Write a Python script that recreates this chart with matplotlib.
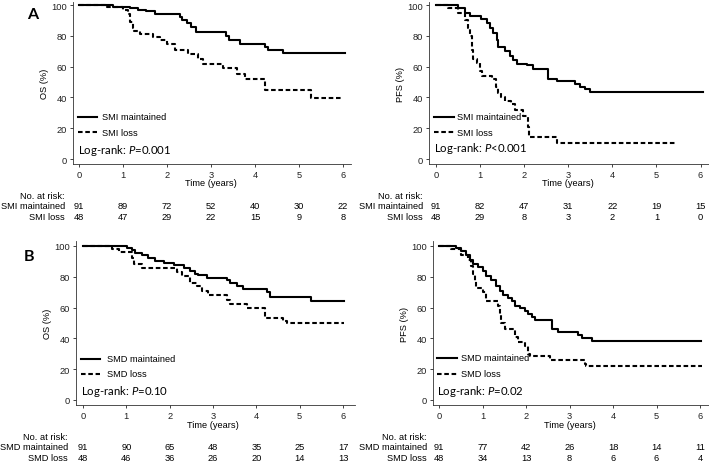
import matplotlib
matplotlib.use("Agg")
import matplotlib.pyplot as plt
import matplotlib.transforms as mtrans

plt.rcParams['font.family'] = ['Liberation Sans', 'DejaVu Sans']
plt.rcParams['mathtext.fontset'] = 'custom'
plt.rcParams['mathtext.rm'] = 'Lato'
plt.rcParams['mathtext.it'] = 'Lato:italic'

# ---------------- data ----------------
# Panel A, OS
a_os_maint_t = [0, 0.78, 1.16, 1.35, 1.53, 1.72, 2.29, 2.35, 2.45, 2.55, 2.65, 2.82, 3.35, 3.41, 3.65, 4.22, 4.30, 4.64, 6.05]
a_os_maint_s = [100, 99, 98, 97, 96, 94, 92, 90, 88, 86, 82.5, 82.5, 80, 77, 75, 73, 71, 69, 69]
a_os_loss_t = [0, 0.63, 1.0, 1.12, 1.17, 1.22, 1.25, 1.38, 1.69, 1.84, 1.99, 2.18, 2.48, 2.70, 2.82, 3.28, 3.58, 3.77, 4.22, 5.28, 6.0]
a_os_loss_s = [100, 98.5, 97, 94, 89, 85, 83, 81, 79, 77, 75, 70.5, 68, 65, 62, 59, 55.5, 52, 44.5, 39.5, 39.5]

# Panel A, PFS
a_pfs_maint_t = [0, 0.51, 0.66, 0.77, 1.03, 1.15, 1.22, 1.30, 1.38, 1.41, 1.56, 1.68, 1.75, 1.83, 2.06, 2.21, 2.55, 2.74, 3.15, 3.27, 3.38, 3.49, 6.06]
a_pfs_maint_s = [100, 98, 95, 93, 91, 88, 85, 82, 77, 73, 70, 67, 64, 62, 61, 58.5, 52, 50.5, 48.5, 47, 45.5, 43.5, 43.5]
a_pfs_loss_t = [0, 0.28, 0.51, 0.66, 0.73, 0.77, 0.81, 0.85, 0.93, 1.0, 1.04, 1.26, 1.37, 1.41, 1.48, 1.56, 1.71, 1.79, 1.98, 2.09, 2.12, 2.74, 5.42]
a_pfs_loss_s = [100, 98, 95, 90, 85, 80, 71, 65, 62.5, 57, 54, 52, 46.5, 43, 40, 37.5, 35.5, 31.5, 28, 20.5, 14, 10.5, 10.5]

# Panel B, OS
b_os_maint_t = [0, 1.01, 1.13, 1.20, 1.36, 1.51, 1.67, 1.86, 2.09, 2.32, 2.47, 2.59, 2.66, 2.85, 3.32, 3.40, 3.55, 3.70, 4.24, 4.31, 5.27, 6.02]
b_os_maint_s = [100, 99, 97.5, 95.5, 94, 92.5, 90, 89, 87.5, 86, 84, 82, 81, 79.5, 78, 76, 74, 72, 70, 67, 64.5, 64.5]
b_os_loss_t = [0, 0.67, 0.82, 1.13, 1.17, 1.36, 2.16, 2.28, 2.47, 2.62, 2.74, 2.89, 3.32, 3.40, 3.78, 4.20, 4.62, 4.70, 6.02]
b_os_loss_s = [100, 98, 96, 92, 88, 86, 83, 80.5, 76, 74, 71, 68, 65, 62.5, 60, 53.5, 51, 50, 50]

# Panel B, PFS
b_pfs_maint_t = [0, 0.40, 0.51, 0.63, 0.71, 0.78, 0.90, 1.01, 1.09, 1.20, 1.32, 1.40, 1.47, 1.59, 1.67, 1.74, 1.86, 1.97, 2.05, 2.13, 2.20, 2.59, 2.74, 3.20, 3.28, 3.51, 6.02]
b_pfs_maint_s = [100, 98.5, 97, 94, 91, 88, 86.5, 83.5, 80.5, 78, 74, 71, 68.5, 66.5, 64, 61, 59.5, 58, 56, 54, 52, 46, 44, 42, 40.5, 38.5, 38.5]
b_pfs_loss_t = [0, 0.28, 0.51, 0.67, 0.74, 0.78, 0.82, 0.86, 1.01, 1.09, 1.36, 1.40, 1.43, 1.51, 1.74, 1.82, 1.97, 2.05, 2.09, 2.55, 3.35, 3.39, 6.04]
b_pfs_loss_s = [100, 98, 94, 91, 87, 82, 77, 72.5, 70, 64.5, 61, 56, 50, 46, 41, 37.5, 35, 30, 28.5, 26, 23.5, 22, 22]

x_ticks = [0, 1, 2, 3, 4, 5, 6]
y_ticks = [0, 20, 40, 60, 80, 100]

a_os_risk_maint = [91, 89, 72, 52, 40, 30, 22]
a_os_risk_loss = [48, 47, 29, 22, 15, 9, 8]
a_pfs_risk_maint = [91, 82, 47, 31, 22, 19, 15]
a_pfs_risk_loss = [48, 29, 8, 3, 2, 1, 0]
b_os_risk_maint = [91, 90, 65, 48, 35, 25, 17]
b_os_risk_loss = [48, 46, 36, 26, 20, 14, 13]
b_pfs_risk_maint = [91, 77, 42, 26, 18, 14, 11]
b_pfs_risk_loss = [48, 34, 13, 8, 6, 6, 4]

# ---------------- layout ----------------
W, H = 709, 464
fig = plt.figure(figsize=(W / 100, H / 100), dpi=100)
FS = 6.7


def fy(py):
    return 1 - py / H


def fx(px):
    return px / W


def make_axes(left, right, top, bottom, x0, x6, y100, y0):
    ax = fig.add_axes([fx(left), fy(bottom), fx(right - left), (bottom - top) / H])
    ppx = (x6 - x0) / 6.0
    ppy = (y0 - y100) / 100.0
    ax.set_xlim(0 - (x0 - left) / ppx, 6 + (right - x6) / ppx)
    ax.set_ylim(0 - (bottom - y0) / ppy, 100 + (y100 - top) / ppy)
    for s in ['top', 'right']:
        ax.spines[s].set_visible(False)
    for s in ['left', 'bottom']:
        ax.spines[s].set_linewidth(0.6)
        ax.spines[s].set_color('#333333')
    ax.set_xticks(x_ticks)
    ax.set_yticks(y_ticks)
    ax.tick_params(direction='out', length=2.5, width=0.6, labelsize=FS, pad=2, colors='#222222')
    ax.patch.set_alpha(0)
    return ax


def draw_panel(ax, t1, s1, t2, s2, ylabel, names, pval, leg_px, leg_y1, leg_y2, logrank_y,
               risk1, risk2, rows_y, label_right, time_y):
    ax.step(t1, s1, where='post', color='black', lw=1.5)
    ax.step(t2, s2, where='post', color='black', lw=1.5, dashes=(2.2, 1.3))
    ax.set_ylabel(ylabel, fontsize=FS, labelpad=1.5)
    tr_x = mtrans.blended_transform_factory(ax.transData, fig.transFigure)
    # legend
    lx0, lx1, ltx = leg_px
    fig.add_artist(plt.Line2D([fx(lx0), fx(lx1)], [fy(leg_y1)] * 2, color='black', lw=1.5,
                              transform=fig.transFigure))
    fig.add_artist(plt.Line2D([fx(lx0), fx(lx1)], [fy(leg_y2)] * 2, color='black', lw=1.5,
                              dashes=(2.2, 1.3), transform=fig.transFigure))
    fig.text(fx(ltx), fy(leg_y1), names[0], fontsize=FS, va='center', ha='left')
    fig.text(fx(ltx), fy(leg_y2), names[1], fontsize=FS, va='center', ha='left')
    fig.text(fx(lx0), fy(logrank_y), 'Log-rank: $\\mathit{P}$' + pval, fontsize=8.2,
             family='Lato', va='center', ha='left')
    # time label
    ax.text(3, fy(time_y), 'Time (years)', transform=tr_x, fontsize=FS, ha='center', va='center')
    # risk table
    fig.text(fx(label_right), fy(rows_y[0]), 'No. at risk:', fontsize=FS, ha='right', va='center')
    fig.text(fx(label_right), fy(rows_y[1]), names[0], fontsize=FS, ha='right', va='center')
    fig.text(fx(label_right), fy(rows_y[2]), names[1], fontsize=FS, ha='right', va='center')
    for xv, r1, r2 in zip(x_ticks, risk1, risk2):
        ax.text(xv, fy(rows_y[1]), str(r1), transform=tr_x, fontsize=FS, ha='center', va='center')
        ax.text(xv, fy(rows_y[2]), str(r2), transform=tr_x, fontsize=FS, ha='center', va='center')


# Panel A left (OS)
ax1 = make_axes(73, 351, 3, 165, 79, 343, 6, 160)
draw_panel(ax1, a_os_maint_t, a_os_maint_s, a_os_loss_t, a_os_loss_s, 'OS (%)',
           ['SMI maintained', 'SMI loss'], '=0.001', (78, 97, 102), 118, 133, 150,
           a_os_risk_maint, a_os_risk_loss, (197, 207, 218), 65, 184)

# Panel A right (PFS)
ax2 = make_axes(429, 709, 3, 165, 436, 700.5, 6, 160)
draw_panel(ax2, a_pfs_maint_t, a_pfs_maint_s, a_pfs_loss_t, a_pfs_loss_s, 'PFS (%)',
           ['SMI maintained', 'SMI loss'], '<0.001', (434, 454, 457), 118, 133, 149,
           a_pfs_risk_maint, a_pfs_risk_loss, (197, 207, 218), 423, 184)

# Panel B left (OS)
ax3 = make_axes(76, 355, 242, 406, 83, 343, 247, 401)
draw_panel(ax3, b_os_maint_t, b_os_maint_s, b_os_loss_t, b_os_loss_s, 'OS (%)',
           ['SMD maintained', 'SMD loss'], '=0.10', (81, 100, 107), 360, 375, 392,
           b_os_risk_maint, b_os_risk_loss, (438, 448, 459), 68, 426)

# Panel B right (PFS)
ax4 = make_axes(433, 709, 242, 406, 439, 700, 247, 401)
draw_panel(ax4, b_pfs_maint_t, b_pfs_maint_s, b_pfs_loss_t, b_pfs_loss_s, 'PFS (%)',
           ['SMD maintained', 'SMD loss'], '=0.02', (437, 457, 461), 359, 375, 392,
           b_pfs_risk_maint, b_pfs_risk_loss, (438, 448, 459), 427, 426)

fig.text(fx(33), fy(15), 'A', fontsize=11.5, family='Lato', weight='bold', ha='center', va='center')
fig.text(fx(29), fy(257), 'B', fontsize=11.5, family='Lato', weight='bold', ha='center', va='center')

fig.savefig('out.png', dpi=100)
